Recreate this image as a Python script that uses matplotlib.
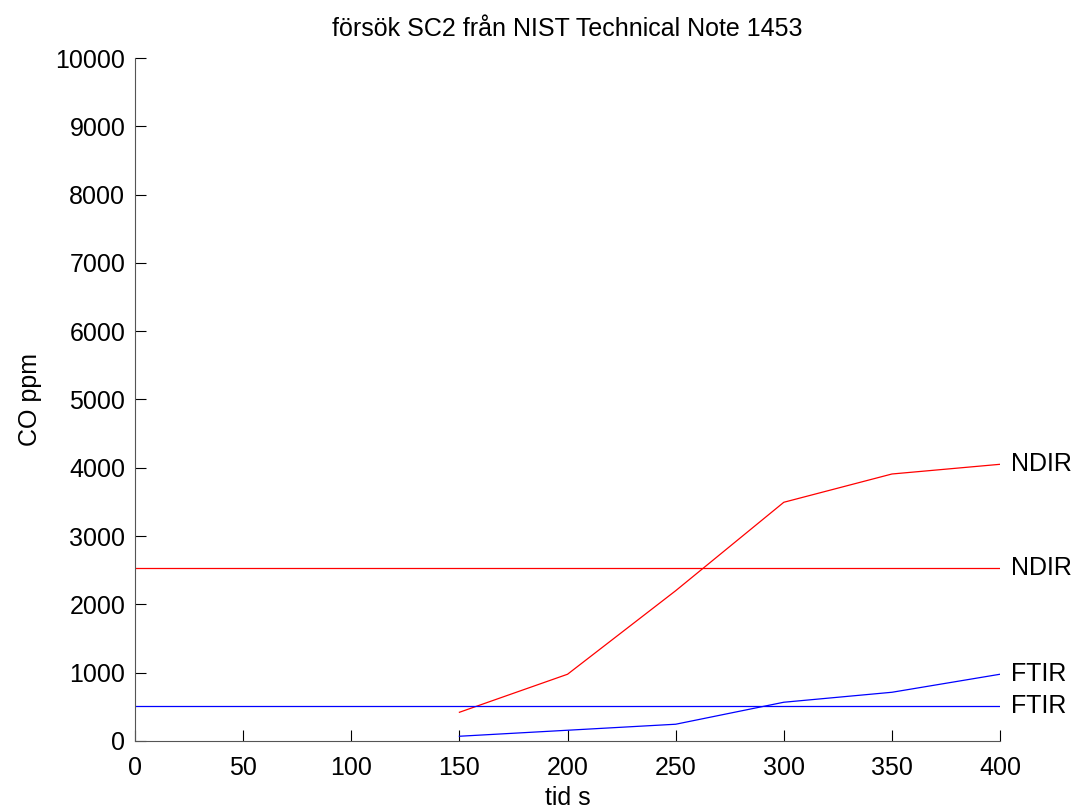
import numpy as np
import matplotlib.pyplot as plt

plt.rcParams['font.family'] = ['Liberation Sans', 'DejaVu Sans']

# CO concentration, test SC2
tid = [150, 200, 250, 300, 350, 400]
ndir = [420, 977, 2200, 3495, 3909, 4051]
ftir = [69, 157, 245, 567, 713, 977]

# reference levels
ndir_niva = 2533
ftir_niva = 508

fig = plt.figure(figsize=(10.75, 8.09), dpi=100)
ax = fig.add_axes([0.1256, 0.0841, 0.8047, 0.8442])

ax.plot(tid, ndir, color='red', lw=0.9)
ax.plot([0, 400], [ndir_niva, ndir_niva], color='red', lw=0.9)
ax.plot(tid, ftir, color='blue', lw=0.9)
ax.plot([0, 400], [ftir_niva, ftir_niva], color='blue', lw=0.9)

fs = 18
ax.text(405, ndir[-1], 'NDIR', fontsize=fs, va='center')
ax.text(405, ndir_niva, 'NDIR', fontsize=fs, va='center')
ax.text(405, ftir[-1], 'FTIR', fontsize=fs, va='center')
ax.text(405, ftir_niva, 'FTIR', fontsize=fs, va='center')

ax.set_xlim(0, 400)
ax.set_ylim(0, 10000)
ax.set_xticks(np.arange(0, 401, 50))
ax.set_yticks(np.arange(0, 10001, 1000))
ax.spines['top'].set_visible(False)
ax.spines['right'].set_visible(False)
for s in ('left', 'bottom'):
    ax.spines[s].set_color('#555555')
ax.tick_params(direction='in', length=8, labelsize=fs, pad=7)
ax.tick_params(axis='x', pad=11)

ax.set_title('försök SC2 från NIST Technical Note 1453', fontsize=fs, pad=16)
ax.set_xlabel('tid s', fontsize=fs, labelpad=4)
ax.set_ylabel('CO ppm', fontsize=fs, labelpad=10)

fig.savefig('out.png', dpi=100)
